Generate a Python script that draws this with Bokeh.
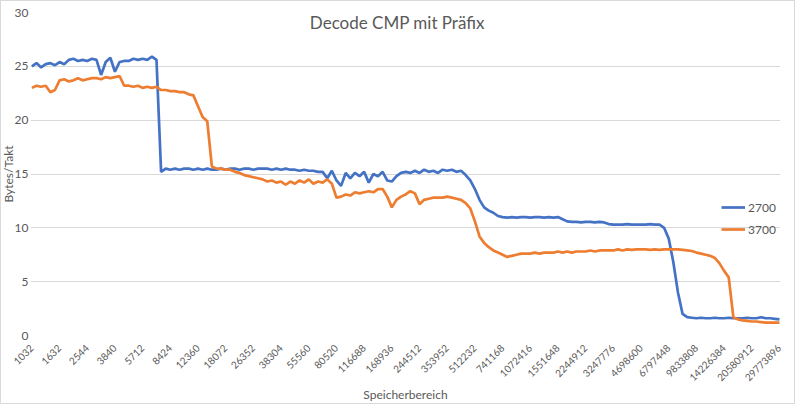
from bokeh.plotting import figure
from bokeh.models import Range1d, FixedTicker, Label, Legend, LegendItem, Title
from bokeh.embed import file_html
from bokeh.resources import INLINE

title_text = "Decode CMP mit Präfix"
x_title = "Speicherbereich"
y_title = "Bytes/Takt"
series_names = ["2700", "3700"]

tick_labels = ["1032", "1632", "2544", "3840", "5712", "8424", "12360", "18072",
               "26352", "38304", "55560", "80520", "116688", "168936", "244512",
               "353952", "512232", "741168", "1072416", "1551648", "2244912",
               "3247776", "4698600", "6797448", "9833808", "14226384",
               "20580912", "29773896"]
points_per_label = 6

values_2700 = [
    25.0, 25.3, 24.9, 25.2, 25.3, 25.1, 25.4, 25.2, 25.6, 25.7,
    25.5, 25.6, 25.5, 25.7, 25.6, 24.2, 25.4, 25.8, 24.5, 25.4,
    25.5, 25.5, 25.7, 25.6, 25.7, 25.6, 25.9, 25.6, 15.2, 15.5,
    15.4, 15.5, 15.4, 15.5, 15.5, 15.4, 15.5, 15.4, 15.5, 15.4,
    15.4, 15.5, 15.4, 15.5, 15.5, 15.4, 15.5, 15.5, 15.4, 15.5,
    15.5, 15.5, 15.4, 15.5, 15.4, 15.5, 15.4, 15.4, 15.3, 15.4,
    15.3, 15.3, 15.2, 15.2, 14.6, 15.3, 14.4, 13.9, 15.1, 14.6,
    15.1, 14.8, 15.2, 14.2, 15.0, 14.8, 15.2, 14.4, 14.3, 14.8,
    15.1, 15.2, 15.1, 15.3, 15.1, 15.4, 15.2, 15.3, 15.1, 15.4,
    15.3, 15.4, 15.2, 15.3, 14.9, 14.4, 13.6, 12.6, 11.9, 11.6,
    11.4, 11.1, 11.0, 10.95, 11.0, 10.95, 11.0, 11.0, 10.95, 11.0,
    11.0, 10.95, 11.0, 10.95, 11.0, 10.8, 10.6, 10.55, 10.55, 10.5,
    10.55, 10.55, 10.5, 10.55, 10.5, 10.35, 10.3, 10.3, 10.3, 10.35,
    10.3, 10.3, 10.3, 10.3, 10.35, 10.3, 10.3, 10.0, 9.0, 6.8,
    4.0, 2.0, 1.7, 1.65, 1.6, 1.65, 1.6, 1.6, 1.65, 1.6,
    1.6, 1.65, 1.6, 1.6, 1.6, 1.65, 1.6, 1.6, 1.7, 1.6,
    1.6, 1.55, 1.5,
]

values_3700 = [
    23.0, 23.2, 23.1, 23.2, 22.6, 22.8, 23.7, 23.8, 23.6, 23.7,
    23.9, 23.7, 23.8, 23.9, 23.9, 23.8, 24.0, 23.9, 24.0, 24.1,
    23.2, 23.2, 23.1, 23.2, 23.0, 23.1, 23.0, 23.1, 22.8, 22.8,
    22.7, 22.7, 22.6, 22.6, 22.4, 22.3, 21.3, 20.3, 19.9, 15.7,
    15.5, 15.5, 15.4, 15.4, 15.2, 15.1, 14.9, 14.8, 14.7, 14.6,
    14.5, 14.3, 14.4, 14.2, 14.3, 14.0, 14.3, 14.1, 14.4, 14.2,
    14.5, 14.1, 14.3, 14.2, 14.5, 14.1, 12.8, 12.9, 13.1, 13.0,
    13.3, 13.2, 13.3, 13.4, 13.3, 13.6, 13.6, 12.9, 11.9, 12.6,
    12.9, 13.1, 13.4, 13.2, 12.2, 12.6, 12.7, 12.8, 12.8, 12.8,
    12.9, 12.8, 12.7, 12.6, 12.3, 11.8, 10.6, 9.2, 8.6, 8.2,
    7.9, 7.7, 7.5, 7.3, 7.4, 7.5, 7.6, 7.6, 7.6, 7.7,
    7.6, 7.7, 7.7, 7.7, 7.8, 7.7, 7.8, 7.7, 7.8, 7.8,
    7.8, 7.9, 7.8, 7.9, 7.9, 7.9, 7.9, 8.0, 7.9, 8.0,
    7.95, 8.0, 8.0, 8.0, 7.95, 8.0, 7.95, 8.0, 8.0, 8.0,
    8.0, 7.95, 7.9, 7.85, 7.7, 7.6, 7.5, 7.4, 7.2, 6.7,
    6.0, 5.4, 1.7, 1.5, 1.4, 1.35, 1.3, 1.3, 1.25, 1.2,
    1.2, 1.2, 1.2,
]

n = len(values_2700)
xs = list(range(n))
tick_positions = [i * points_per_label for i in range(len(tick_labels))]

FONT = "Lato"
TXT = "#595959"

x_start, x_end = -0.3, n - 1 + 0.22

p = figure(width=795, height=404, output_backend="svg", toolbar_location=None,
           x_range=Range1d(x_start, x_end), y_range=Range1d(0, 30),
           min_border_left=29, min_border_right=16, min_border_top=11,
           min_border_bottom=68)
p.styles = {"border": "1px solid #d9d9d9"}
p.outline_line_color = None
p.background_fill_color = "white"
p.border_fill_color = "white"

# grid
p.xgrid.grid_line_color = None
p.ygrid.grid_line_color = "#d9d9d9"
p.ygrid.grid_line_width = 1

# y axis
p.yaxis.ticker = FixedTicker(ticks=[0, 5, 10, 15, 20, 25, 30])
p.yaxis.axis_line_color = None
p.yaxis.major_tick_line_color = None
p.yaxis.minor_tick_line_color = None
p.yaxis.major_tick_out = 0
p.yaxis.major_tick_in = 0
p.yaxis.major_label_text_font = FONT
p.yaxis.major_label_text_font_size = "12px"
p.yaxis.major_label_text_color = TXT
p.yaxis.major_label_standoff = 2

ytitle = Title(text=y_title, align="center", text_font=FONT,
               text_font_size="12px", text_font_style="normal",
               text_color=TXT, standoff=-8, offset=0, text_line_height=1.0)
p.add_layout(ytitle, "left")

# x axis
p.xaxis.ticker = FixedTicker(ticks=tick_positions)
p.xaxis.major_label_overrides = {pos: lab for pos, lab in zip(tick_positions, tick_labels)}
p.xaxis.major_label_orientation = 0.785398
p.xaxis.axis_line_color = None
p.xaxis.major_tick_line_color = None
p.xaxis.minor_tick_line_color = None
p.xaxis.major_label_text_font = FONT
p.xaxis.major_label_text_font_size = "10px"
p.xaxis.major_label_text_color = TXT
p.xaxis.major_label_standoff = 5
p.xaxis.axis_label = x_title
p.xaxis.axis_label_text_font = FONT
p.xaxis.axis_label_text_font_size = "12px"
p.xaxis.axis_label_text_font_style = "normal"
p.xaxis.axis_label_text_color = TXT
p.xaxis.axis_label_standoff = 0

r1 = p.line(xs, values_2700, line_color="#4472C4", line_width=2.7)
r2 = p.line(xs, values_3700, line_color="#ED7D31", line_width=2.7)

legend = Legend(items=[LegendItem(label=series_names[0], renderers=[r1]),
                       LegendItem(label=series_names[1], renderers=[r2])],
                location=(691, 96), orientation="vertical",
                glyph_width=24, glyph_height=20, label_height=20,
                label_standoff=3, spacing=2, padding=0, margin=0,
                label_text_font=FONT, label_text_font_size="12px",
                label_text_color=TXT, background_fill_alpha=0,
                border_line_color=None)
p.add_layout(legend)

title = Label(x=79.2, y=29.08, text=title_text, text_align="center",
              text_baseline="middle", text_font=FONT, text_font_size="17px",
              text_color=TXT)
p.add_layout(title)

open("out.html", "w").write(file_html(p, INLINE))
